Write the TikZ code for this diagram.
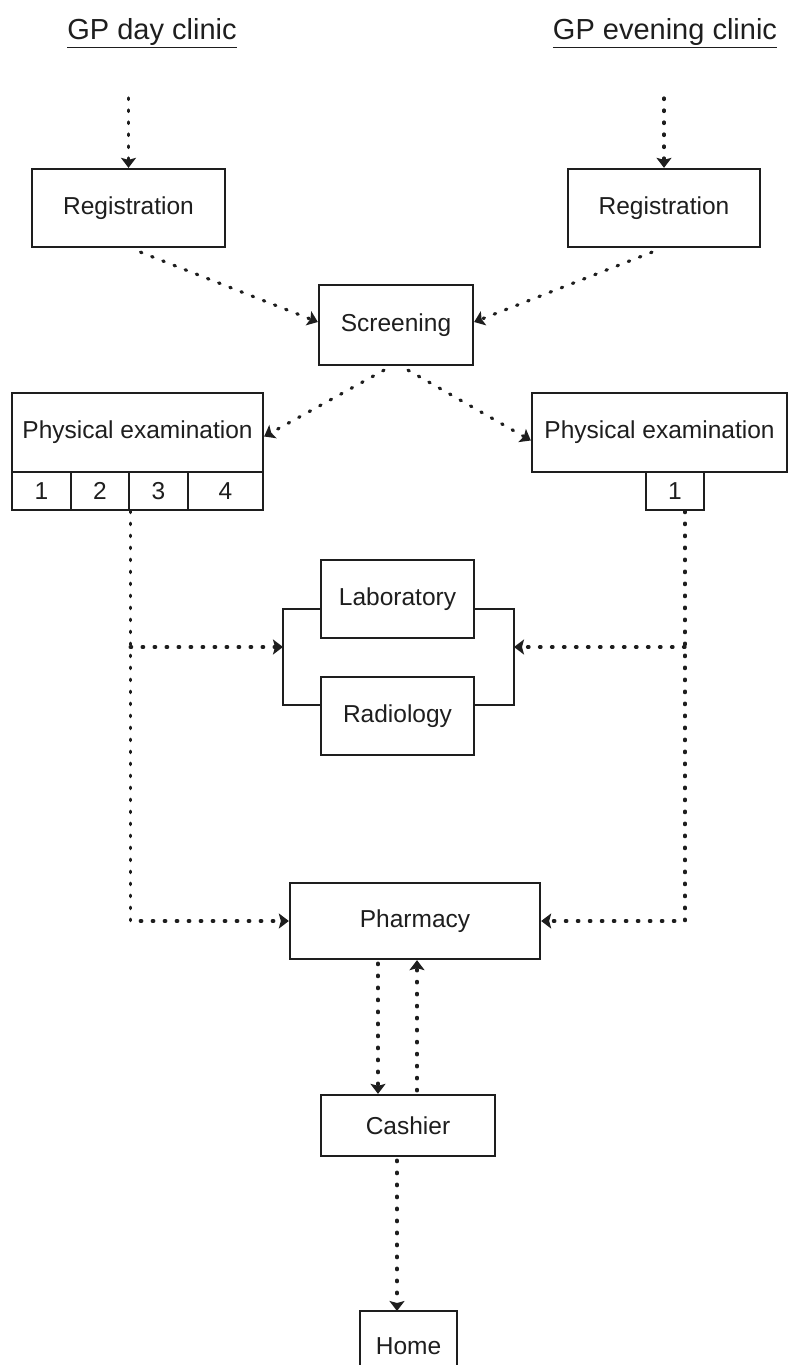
\documentclass[tikz,border=0pt]{standalone}
\usepackage{fontspec}
\setmainfont{Liberation Sans}
\usetikzlibrary{arrows.meta,calc}
\definecolor{ink}{HTML}{1E1E1E}
\begin{document}
\begin{tikzpicture}[x=1pt,y=-1pt,
  box/.style={draw=ink, line width=2.3pt, fill=white, inner sep=0pt,
    font=\fontsize{24.5}{28}\selectfont, text=ink},
  plain/.style={inner sep=0pt, font=\fontsize{24.5}{28}\selectfont, text=ink},
  titletext/.style={inner sep=0pt, font=\fontsize{29}{34}\selectfont, text=ink},
  flow/.style={draw=ink, line width=3.2pt, dash pattern=on 1.5pt off 10.5pt, line cap=round,
    -{Stealth[length=10pt,width=15pt,inset=2pt]}},
  solidline/.style={draw=ink, line width=2.3pt}]
\useasboundingbox (0,0) rectangle (796,1365);

% titles
\node[titletext] (t1) at (152,33) {\underline{GP day clinic}};
\node[titletext] (t2) at (665,33) {\underline{GP evening clinic}};

% boxes
\node[box, minimum width=193, minimum height=78] (regL) at (128.5,208) {Registration};
\node[box, minimum width=192, minimum height=78] (regR) at (664,208) {Registration};
\node[box, minimum width=154, minimum height=80] (screen) at (396,325) {Screening};
\node[box, minimum width=251, minimum height=79] (pel) at (137.5,432.5) {Physical examination};
\node[box, minimum width=255, minimum height=79] (per) at (659.5,432.5) {Physical examination};
\node[box, minimum width=59, minimum height=38] (c1) at (41.5,491) {1};
\node[box, minimum width=58, minimum height=38] (c2) at (100,491) {2};
\node[box, minimum width=59, minimum height=38] (c3) at (158.5,491) {3};
\node[box, minimum width=75, minimum height=38] (c4) at (225.5,491) {4};
\node[box, minimum width=58, minimum height=38] (r1) at (675,491) {1};
\node[box, minimum width=153, minimum height=78] (lab) at (397.5,599) {Laboratory};
\node[box, minimum width=153, minimum height=78] (rad) at (397.5,716) {Radiology};
\node[box, minimum width=250, minimum height=76] (pharm) at (415,921) {Pharmacy};
\node[box, minimum width=174, minimum height=61] (cash) at (408,1125.5) {Cashier};
\node[plain] (home) at (408.5,1346) {Home};
\coordinate (hnw) at (360,1311);
\coordinate (hne) at (457,1311);
\coordinate (hn) at (408.5,1311);
\draw[solidline] (hnw |- 0,1366) -- (hnw) -- (hne) -- (hne |- 0,1366);

% entry arrows
\coordinate (tL) at (128.5,98);
\coordinate (tR) at (664,98);
\draw[flow] (tL) -- (regL.north);
\draw[flow] (tR) -- (regR.north);

% registration -> screening
\draw[flow] ($(regL.south)+(12,4)$) -- ($(screen.west)+(0,-3)$);
\draw[flow] ($(regR.south)+(-12,4)$) -- ($(screen.east)+(0,-3)$);

% screening -> physical examination
\draw[flow] ($(screen.south)+(-12,4)$) -- ($(pel.east)+(0,4)$);
\draw[flow] ($(screen.south)+(12,4)$) -- ($(per.west)+(0,8)$);

% bracket around laboratory / radiology
\coordinate (brL) at (283,647);
\coordinate (brR) at (514,647);
\draw[solidline] ($(lab.west)+(0,10)$) -| (brL) |- ($(rad.west)+(0,-11)$);
\draw[solidline] ($(lab.east)+(0,10)$) -| (brR) |- ($(rad.east)+(0,-11)$);

% left trunk
\draw[flow] (c2.south east) -- (c2.south east |- pharm.west) -- (pharm.west);
\draw[flow] (c2.south east |- brL) -- (brL);

% right trunk
\coordinate (rs) at ($(r1.south)+(10,0)$);
\draw[flow] (rs) -- (rs |- pharm.east) -- (pharm.east);
\draw[flow] (rs |- brR) -- (brR);

% pharmacy <-> cashier
\coordinate (p1) at ($(pharm.south)+(-37,3)$);
\coordinate (p2) at ($(cash.north)+(9,-3)$);
\draw[flow] (p1) -- (p1 |- cash.north);
\draw[flow] (p2) -- (p2 |- pharm.south);

% cashier -> home
\coordinate (h1) at ($(cash.south)+(-11,3)$);
\draw[flow] (h1) -- (hn -| h1);
\end{tikzpicture}
\end{document}
